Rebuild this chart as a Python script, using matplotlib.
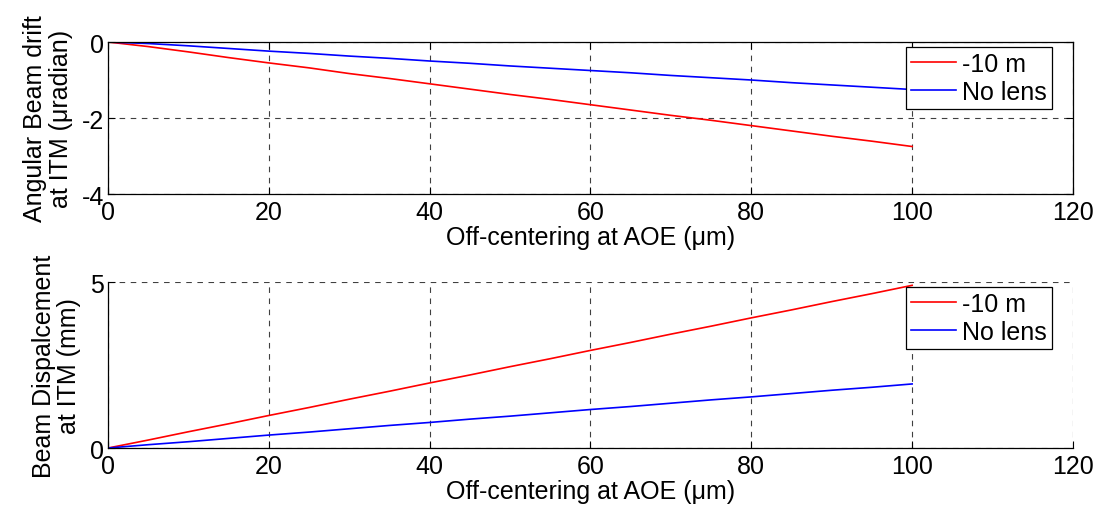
import matplotlib
matplotlib.use("Agg")
import matplotlib.pyplot as plt
import numpy as np

# off-centering at AOE (um)
offset_um = [0, 5, 10, 15, 20, 25, 30, 35, 40, 45, 50,
             55, 60, 65, 70, 75, 80, 85, 90, 95, 100]

# angular beam drift at ITM (urad)
drift_lens = [0, -0.12, -0.26, -0.41, -0.55, -0.68, -0.83, -0.96, -1.10, -1.24, -1.38,
              -1.51, -1.65, -1.79, -1.93, -2.06, -2.20, -2.34, -2.48, -2.61, -2.75]
drift_nolens = [0, -0.04, -0.10, -0.17, -0.24, -0.30, -0.37, -0.43, -0.50, -0.56, -0.63,
                -0.69, -0.75, -0.81, -0.88, -0.94, -1.00, -1.07, -1.13, -1.19, -1.25]

# beam displacement at ITM (mm)
disp_lens = [0, 0.24, 0.49, 0.73, 0.98, 1.22, 1.47, 1.71, 1.96, 2.20, 2.45,
             2.69, 2.94, 3.18, 3.43, 3.67, 3.92, 4.16, 4.41, 4.65, 4.90]
disp_nolens = [0, 0.10, 0.19, 0.29, 0.39, 0.48, 0.58, 0.68, 0.77, 0.87, 0.96,
               1.06, 1.16, 1.25, 1.35, 1.45, 1.54, 1.64, 1.74, 1.83, 1.93]

series_labels = ["-10 m", "No lens"]
x_ticks = [0, 20, 40, 60, 80, 100, 120]

plt.rcParams["font.family"] = ["Liberation Sans", "DejaVu Sans"]
plt.rcParams["font.size"] = 18
plt.rcParams["axes.unicode_minus"] = False

grid_style = dict(color="#404040", linestyle=(0, (5, 5)), linewidth=0.8)


def style_axes(ax, y_ticks, y_lim, box):

    ax.set_xlim(0, 120)
    ax.set_ylim(*y_lim)
    ax.set_xticks(x_ticks)
    ax.set_yticks(y_ticks)
    ax.tick_params(direction="in", length=5, width=0.8, labelsize=18,
                   top=box, right=box)
    ax.tick_params(axis="x", pad=4)
    ax.tick_params(axis="y", pad=3)
    ax.grid(True, **grid_style)
    for side in ["top", "right"]:
        ax.spines[side].set_visible(box)
    for spine in ax.spines.values():
        spine.set_linewidth(0.9)


def add_legend(ax, anchor):

    leg = ax.legend(loc="upper right", bbox_to_anchor=anchor,
                    fontsize=18, fancybox=False, framealpha=1,
                    edgecolor="black", handlelength=1.8,
                    handletextpad=0.25, borderpad=0.2,
                    labelspacing=0.15, borderaxespad=0)
    leg.get_frame().set_linewidth(0.9)


fig = plt.figure(figsize=(10.95, 5.06), dpi=100)

ax1 = fig.add_axes([0.0986, 0.6146, 0.8813, 0.3004])
ax1.plot(offset_um, drift_lens, color="red", linewidth=1.2, label=series_labels[0])
ax1.plot(offset_um, drift_nolens, color="blue", linewidth=1.2, label=series_labels[1])
style_axes(ax1, [-4, -2, 0], (-4, 0), True)
ax1.set_xlabel("Off-centering at AOE (\u03bcm)", labelpad=1)
ax1.set_ylabel("Angular Beam drift\nat ITM (\u03bcradian)", labelpad=6, linespacing=1.1)
add_legend(ax1, (0.978, 0.967))

ax2 = fig.add_axes([0.0986, 0.1126, 0.8813, 0.3281])
ax2.plot(offset_um, disp_lens, color="red", linewidth=1.2, label=series_labels[0])
ax2.plot(offset_um, disp_nolens, color="blue", linewidth=1.2, label=series_labels[1])
style_axes(ax2, [0, 5], (0, 5), False)
ax2.set_xlabel("Off-centering at AOE (\u03bcm)", labelpad=1)
ax2.set_ylabel("Beam Dispalcement\nat ITM (mm)", labelpad=6, linespacing=1.1)
add_legend(ax2, (0.978, 0.970))

fig.savefig("out.png", dpi=100)
